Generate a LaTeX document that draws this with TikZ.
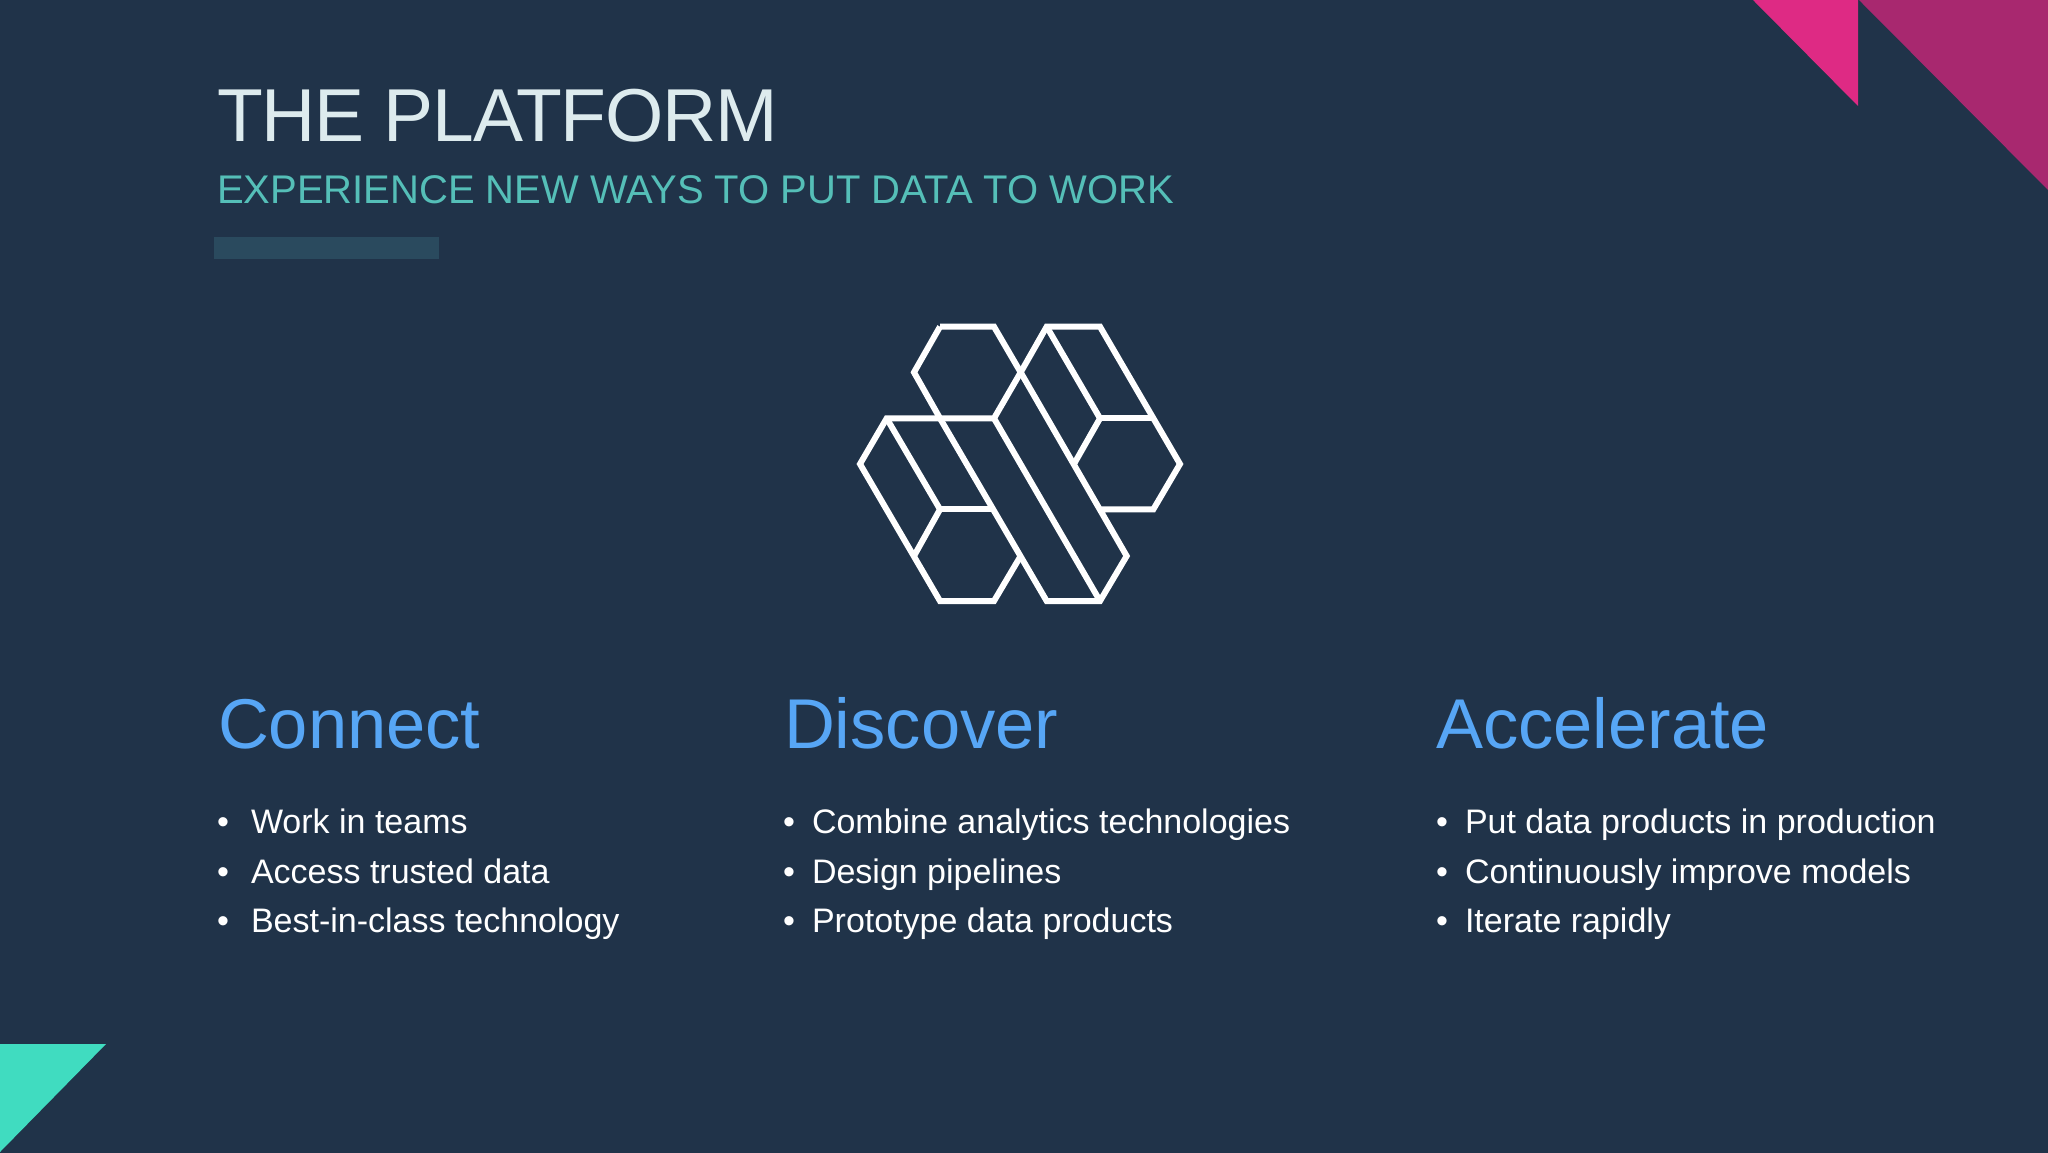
\documentclass[tikz,border=0pt]{standalone}
\usepackage{fontspec}
\setmainfont{Liberation Sans}
\definecolor{bgc}{HTML}{203349}
\definecolor{titlec}{HTML}{DDEBEE}
\definecolor{subc}{HTML}{55BFB8}
\definecolor{barc}{HTML}{2A4A5E}
\definecolor{headc}{HTML}{57A6F5}
\definecolor{pinka}{HTML}{DE2A84}
\definecolor{pinkb}{HTML}{A8286F}
\definecolor{tealc}{HTML}{40DCC0}
\tikzset{
  txt/.style={anchor=base west,inner sep=0pt,outer sep=0pt},
  titletext/.style={txt,text=titlec,font=\fontsize{75}{75}\selectfont\addfontfeature{LetterSpace=-1.7}},
  subtext/.style={txt,text=subc,font=\fontsize{40}{40}\selectfont},
  headtext/.style={txt,text=headc,font=\fontsize{70.5}{70.5}\selectfont},
  itemtext/.style={txt,text=white,font=\fontsize{34}{34}\selectfont},
  logoline/.style={draw=white,line width=6pt,line join=miter,line cap=butt},
}
\begin{document}
\begin{tikzpicture}[x=1pt,y=-1pt]
\useasboundingbox (0,0) rectangle (2048,1152);
\fill[bgc] (-3,-3) rectangle (2051,1155);
\fill[pinka] (1753,-3) -- (1858,-3) -- (1858,106) -- (1753,0) -- cycle;
\fill[pinkb] (1859,-3) -- (2051,-3) -- (2051,193) -- (1859,0) -- cycle;
\fill[tealc] (-3,1044) -- (106,1044) -- (0,1152) -- (-3,1155) -- cycle;
\fill[barc] (214,237) rectangle (439,259);
\node[titletext] (title) at (217,141) {THE PLATFORM};
\node[subtext] (subtitle) at (217,203) {EXPERIENCE NEW WAYS TO PUT DATA TO WORK};
\begin{scope}[shift={(840,310)},x=0.33333pt,y=-0.33333pt]
\draw[logoline] (300,50) -- (462,50) -- (542,187) -- (462,325) -- (140,325) -- (60,462) -- (300,873) -- (462,873) -- (542,738);
\draw[logoline] (300,50) -- (222,187) -- (300,325) -- (620,873) -- (780,873) -- (860,738) -- (542,187) -- (620,50) -- (780,50) -- (1020,462) -- (940,598) -- (782,598);
\draw[logoline] (620,50) -- (780,325) -- (702,462);
\draw[logoline] (780,325) -- (938,325);
\draw[logoline] (462,325) -- (780,873);
\draw[logoline] (140,325) -- (300,598) -- (222,738);
\draw[logoline] (300,598) -- (462,598);
\end{scope}
\node[headtext] (h1) at (218,748) {Connect};
\node[headtext] (h2) at (784,748) {Discover};
\node[headtext] (h3) at (1436,748) {Accelerate};
\foreach \x/\tx/\a/\b/\c in {217/251/Work in teams/Access trusted data/Best-in-class technology,
  783/812/Combine analytics technologies/Design pipelines/Prototype data products,
  1436/1465/Put data products in production/Continuously improve models/Iterate rapidly}{
  \node[itemtext] at (\x,833) {•};
  \node[itemtext] at (\x,883) {•};
  \node[itemtext] at (\x,932) {•};
  \node[itemtext] at (\tx,833) {\a};
  \node[itemtext] at (\tx,883) {\b};
  \node[itemtext] at (\tx,932) {\c};
}
\end{tikzpicture}
\end{document}
